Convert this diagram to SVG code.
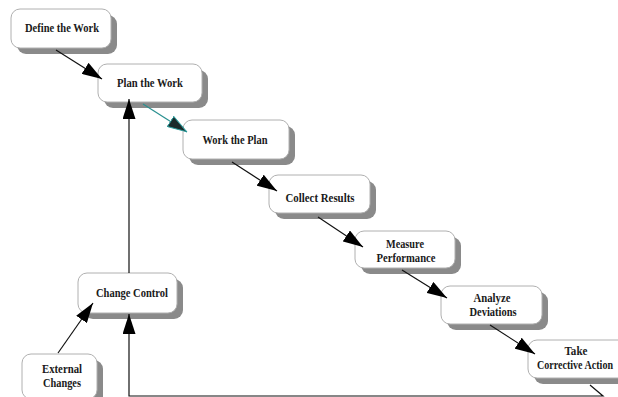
<svg xmlns="http://www.w3.org/2000/svg" width="618" height="397" viewBox="0 0 618 397">
<defs>
<style>
.box{fill:#fff;stroke:#b0b0b0;stroke-width:1}
.sh{fill:#8a8a8a}
.t{font-family:"Liberation Serif","Times New Roman",serif;font-weight:bold;font-size:12.5px;fill:#1a1a1a;text-anchor:middle}
.c{fill:none;stroke:#111;stroke-width:1.2}
</style>
<marker id="ah" viewBox="0 0 20 13" refX="20" refY="6.5" markerWidth="20" markerHeight="13" markerUnits="userSpaceOnUse" orient="auto">
<path d="M0,0 L20,6.5 L0,13 Z" fill="#000"/>
</marker>
<marker id="aht" viewBox="0 0 20 13" refX="20" refY="6.5" markerWidth="20" markerHeight="13" markerUnits="userSpaceOnUse" orient="auto">
<path d="M0.5,0.5 L19.5,6.5 L0.5,12.5 Z" fill="#1a2a2a" stroke="#2a9a9a" stroke-width="1"/>
</marker>
</defs>
<rect width="618" height="397" fill="#fff"/>
<g id="define">
<rect class="sh" x="17" y="15" width="100" height="39" rx="9"/>
<rect class="box" x="11" y="9" width="100" height="39" rx="9"/>
<text class="t" x="62" y="32" textLength="74" lengthAdjust="spacingAndGlyphs">Define the Work</text>
</g>
<g id="plan">
<rect class="sh" x="104" y="70" width="104" height="38" rx="9"/>
<rect class="box" x="98" y="64" width="104" height="38" rx="9"/>
<text class="t" x="150" y="87" textLength="66" lengthAdjust="spacingAndGlyphs">Plan the Work</text>
</g>
<g id="work">
<rect class="sh" x="189" y="126" width="106" height="39" rx="9"/>
<rect class="box" x="183" y="120" width="106" height="39" rx="9"/>
<text class="t" x="235" y="144" textLength="65" lengthAdjust="spacingAndGlyphs">Work the Plan</text>
</g>
<g id="collect">
<rect class="sh" x="275" y="181" width="101" height="38" rx="9"/>
<rect class="box" x="269" y="175" width="101" height="38" rx="9"/>
<text class="t" x="320" y="202" textLength="69" lengthAdjust="spacingAndGlyphs">Collect  Results</text>
</g>
<g id="measure">
<rect class="sh" x="361" y="237" width="100" height="37" rx="9"/>
<rect class="box" x="355" y="231" width="100" height="37" rx="9"/>
<text class="t" x="405" y="248" textLength="38" lengthAdjust="spacingAndGlyphs">Measure</text>
<text class="t" x="406" y="262" textLength="59" lengthAdjust="spacingAndGlyphs">Performance</text>
</g>
<g id="analyze">
<rect class="sh" x="447" y="292" width="101" height="38" rx="9"/>
<rect class="box" x="441" y="286" width="101" height="38" rx="9"/>
<text class="t" x="492" y="302" textLength="37" lengthAdjust="spacingAndGlyphs">Analyze</text>
<text class="t" x="493" y="316" textLength="47" lengthAdjust="spacingAndGlyphs">Deviations</text>
</g>
<g id="take">
<rect class="sh" x="534" y="346" width="110" height="38" rx="9"/>
<rect class="box" x="528" y="340" width="110" height="38" rx="9"/>
<text class="t" x="576" y="355" textLength="23" lengthAdjust="spacingAndGlyphs">Take</text>
<text class="t" x="575" y="369" textLength="76" lengthAdjust="spacingAndGlyphs">Corrective Action</text>
</g>
<g id="change">
<rect class="sh" x="84" y="279" width="99" height="40" rx="9"/>
<rect class="box" x="78" y="273" width="99" height="40" rx="9"/>
<text class="t" x="132" y="297" textLength="72" lengthAdjust="spacingAndGlyphs">Change Control</text>
</g>
<g id="external">
<rect class="sh" x="28" y="360" width="75" height="45" rx="9"/>
<rect class="box" x="22" y="354" width="75" height="45" rx="9"/>
<text class="t" x="62" y="373" textLength="40" lengthAdjust="spacingAndGlyphs">External</text>
<text class="t" x="62" y="387" textLength="38" lengthAdjust="spacingAndGlyphs">Changes</text>
</g>
<g id="connectors">
<line class="c" x1="56" y1="50" x2="102" y2="79" marker-end="url(#ah)"/>
<line class="c" x1="143" y1="104" x2="187" y2="132" style="stroke:#2a9090" marker-end="url(#aht)"/>
<line class="c" x1="232" y1="162" x2="277" y2="191" marker-end="url(#ah)"/>
<line class="c" x1="318" y1="217" x2="363" y2="247" marker-end="url(#ah)"/>
<line class="c" x1="402" y1="270" x2="447" y2="298" marker-end="url(#ah)"/>
<line class="c" x1="490" y1="325" x2="535" y2="354" marker-end="url(#ah)"/>
<polyline class="c" points="590,385 603,396 129,396 129,314" marker-end="url(#ah)"/>
<line class="c" x1="129" y1="273" x2="129" y2="99" marker-end="url(#ah)"/>
<line class="c" x1="58" y1="353" x2="93" y2="303" marker-end="url(#ah)"/>
</g>
</svg>
